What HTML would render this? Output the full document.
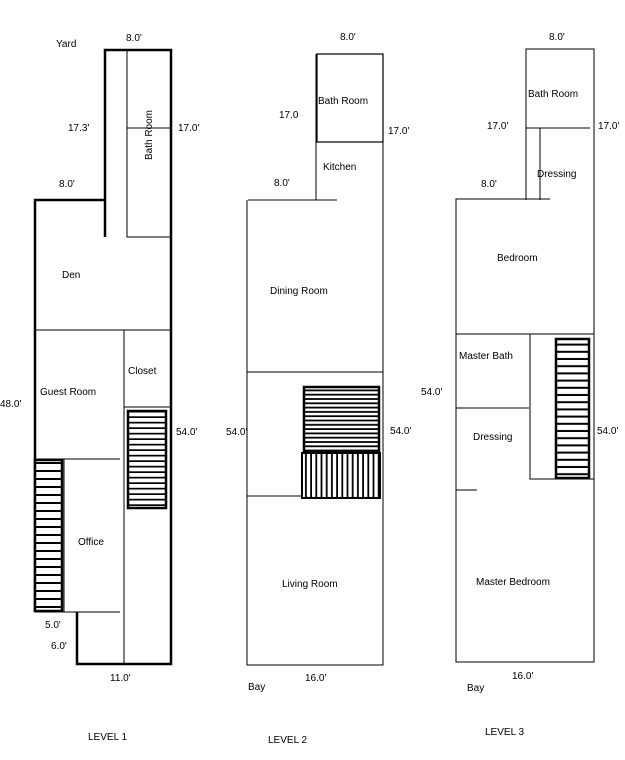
<!DOCTYPE html>
<html><head><meta charset="utf-8"><style>
html,body{margin:0;padding:0;background:#fff;}
svg{display:block;}
text{font-family:"Liberation Sans",sans-serif;font-size:10px;fill:#000;}
</style></head><body>
<svg width="625" height="760" viewBox="0 0 625 760" xmlns="http://www.w3.org/2000/svg">
<defs>
<pattern id="h8" width="10" height="8" patternUnits="userSpaceOnUse"><rect width="10" height="8" fill="#fff"/><rect y="6" width="10" height="2" fill="#000"/></pattern>
<pattern id="h55" width="10" height="5.5" patternUnits="userSpaceOnUse"><rect width="10" height="5.5" fill="#fff"/><rect y="3.8" width="10" height="1.7" fill="#000"/></pattern>
<pattern id="h4" width="10" height="4.3" patternUnits="userSpaceOnUse"><rect width="10" height="4.3" fill="#fff"/><rect y="2.5" width="10" height="1.8" fill="#000"/></pattern>
<pattern id="v5" width="5.2" height="10" patternUnits="userSpaceOnUse"><rect width="5.2" height="10" fill="#fff"/><rect x="3.4" width="1.8" height="10" fill="#000"/></pattern>
<pattern id="h7" width="10" height="7.2" patternUnits="userSpaceOnUse"><rect width="10" height="7.2" fill="#fff"/><rect y="5.2" width="10" height="2" fill="#000"/></pattern>
</defs>
<g stroke="#000" fill="none">
<!-- LEVEL 1 -->
<path d="M105 237 V50 H171 V664 H77 V612" stroke-width="2.5"/>
<path d="M105 200 H35 V612" stroke-width="2.5"/>
<path d="M127 50 V237 H171 M127 128 H171 M35 330 H171 M124 330 V664 M124 407 H171 M35 459 H120 M64 459 V612 M35 612 H120" stroke-width="1"/>
<rect x="35" y="460" width="27" height="151" fill="url(#h8)" stroke-width="2.5"/>
<rect x="128" y="411" width="38" height="97" fill="url(#h55)" stroke-width="2.5"/>
<!-- LEVEL 2 -->
<rect x="317" y="54" width="66" height="88" stroke-width="1.2"/>
<path d="M316 54 V200 M248 200 H337 M247 200 V665 H383 V54 M247 372 H383 M247 496 H302" stroke-width="1"/>
<rect x="304" y="387" width="75" height="64" fill="url(#h4)" stroke-width="2.5"/>
<rect x="302" y="453" width="78" height="45" fill="url(#v5)" stroke-width="2"/>
<!-- LEVEL 3 -->
<path d="M526 200 V49 H594 V662 H456 V199 H550 M526 128 H590 M540 128 V200 M456 334 H594 M530 334 V479 H594 M456 408 H529 M456 490 H477" stroke-width="1"/>
<rect x="556" y="339" width="33" height="139" fill="url(#h7)" stroke-width="2.5"/>
</g>
<!-- labels level 1 -->
<text x="56" y="47">Yard</text>
<text x="126" y="41">8.0'</text>
<text x="68" y="131">17.3'</text>
<text x="178" y="131">17.0'</text>
<text x="59" y="187">8.0'</text>
<text x="152" y="135" transform="rotate(-90 152 135)" text-anchor="middle">Bath Room</text>
<text x="62" y="278">Den</text>
<text x="40" y="395">Guest Room</text>
<text x="128" y="374">Closet</text>
<text x="0" y="407">48.0'</text>
<text x="176" y="435">54.0'</text>
<text x="78" y="545">Office</text>
<text x="45" y="628">5.0'</text>
<text x="51" y="649">6.0'</text>
<text x="110" y="681">11.0'</text>
<text x="88" y="740">LEVEL 1</text>
<!-- labels level 2 -->
<text x="340" y="40">8.0'</text>
<text x="279" y="118">17.0</text>
<text x="388" y="134">17.0'</text>
<text x="274" y="186">8.0'</text>
<text x="323" y="170">Kitchen</text>
<text x="318" y="104">Bath Room</text>
<text x="270" y="294">Dining Room</text>
<text x="226" y="435">54.0'</text>
<text x="390" y="434">54.0'</text>
<text x="282" y="587">Living Room</text>
<text x="248" y="690">Bay</text>
<text x="305" y="681">16.0'</text>
<text x="268" y="743">LEVEL 2</text>
<!-- labels level 3 -->
<text x="549" y="40">8.0'</text>
<text x="487" y="129">17.0'</text>
<text x="598" y="129">17.0'</text>
<text x="481" y="187">8.0'</text>
<text x="537" y="177">Dressing</text>
<text x="528" y="97">Bath Room</text>
<text x="497" y="261">Bedroom</text>
<text x="459" y="359">Master Bath</text>
<text x="421" y="395">54.0'</text>
<text x="597" y="434">54.0'</text>
<text x="473" y="440">Dressing</text>
<text x="476" y="585">Master Bedroom</text>
<text x="467" y="691">Bay</text>
<text x="512" y="679">16.0'</text>
<text x="485" y="735">LEVEL 3</text>
</svg>
</body></html>
